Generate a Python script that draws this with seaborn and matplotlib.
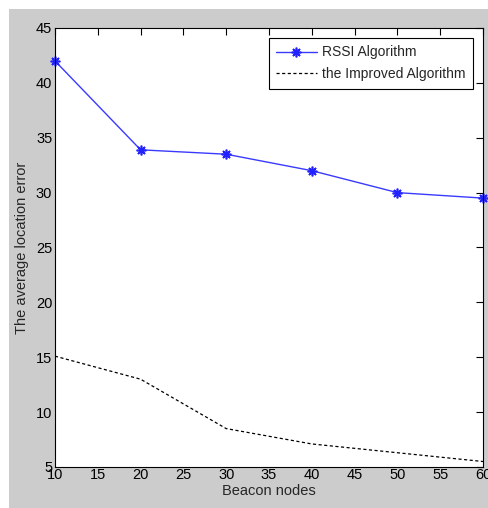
import matplotlib.pyplot as plt
import matplotlib.patches as patches
import pandas as pd
import seaborn as sns

# data
beacon_nodes = [10, 20, 30, 40, 50, 60]
rssi_error = [42.0, 33.9, 33.5, 32.0, 30.0, 29.5]
improved_error = [15.1, 13.0, 8.5, 7.1, 6.3, 5.5]

df = pd.DataFrame({'nodes': beacon_nodes, 'rssi': rssi_error, 'improved': improved_error})

sns.set_style('white')
plt.rcParams['font.family'] = ['Liberation Sans Narrow', 'Liberation Sans', 'DejaVu Sans']

fig = plt.figure(figsize=(4.89, 5.08), dpi=100, facecolor='white')
# gray MATLAB-like figure background with a thin white margin top/left
fig.patches.append(patches.Rectangle((9 / 489, 0), 1, 1 - 9 / 508, transform=fig.transFigure,
                                     facecolor='#cccccc', edgecolor='none', zorder=-10))
ax = fig.add_axes([55 / 489, 1 - 467 / 508, (483 - 55) / 489, (467 - 28) / 508])
ax.set_facecolor('white')

sns.lineplot(data=df, x='nodes', y='rssi', ax=ax, color='#3a3aff', linewidth=1.0,
             marker=(8, 2, 0), markersize=7, markeredgewidth=1.2, markeredgecolor='#2222ff',
             label='RSSI Algorithm', clip_on=False)
sns.lineplot(data=df, x='nodes', y='improved', ax=ax, color='black', linewidth=0.9,
             linestyle=(0, (2.5, 2.0)), label='the Improved Algorithm')

ax.set_xlim(10, 60)
ax.set_ylim(5, 45)
ax.set_xticks(range(10, 61, 5))
ax.set_yticks(range(5, 46, 5))
ax.tick_params(direction='in', length=5, width=0.8, labelsize=10.5, top=True, right=True,
               colors='black', pad=2)
ax.tick_params(axis='x', pad=1)
for s in ax.spines.values():
    s.set_visible(True)
    s.set_color('black')
    s.set_linewidth(0.8)

ax.set_xlabel('Beacon nodes', fontsize=10.5, labelpad=1)
ax.set_ylabel('The average location error', fontsize=10.5, labelpad=5)

leg = ax.legend(loc='upper right', fontsize=10, fancybox=False, framealpha=1,
                edgecolor='black', borderaxespad=0.7, handlelength=2.9, borderpad=0.55,
                labelspacing=0.55, handletextpad=0.4)
leg.get_frame().set_linewidth(0.8)

plt.savefig('out.png', dpi=100, facecolor=fig.get_facecolor())
plt.close()
